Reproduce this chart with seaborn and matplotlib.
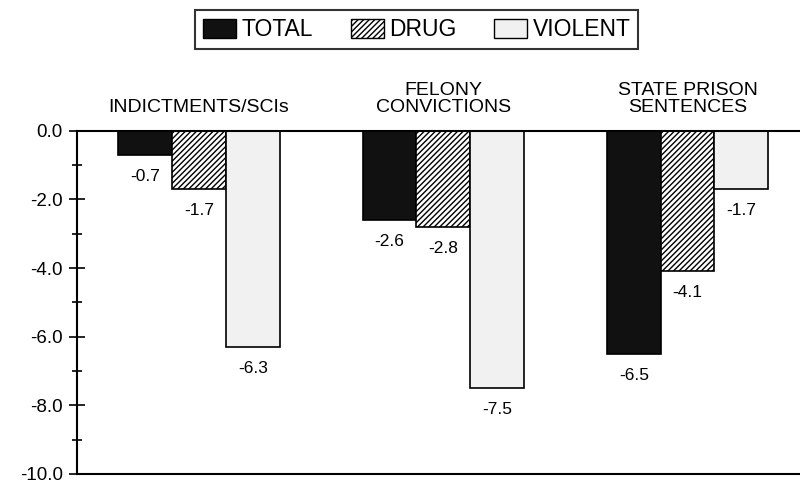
import numpy as np
import pandas as pd
import seaborn as sns
import matplotlib.pyplot as plt
from matplotlib.patches import Patch
from matplotlib.ticker import MultipleLocator

groups = ['INDICTMENTS/SCIs', 'FELONY\nCONVICTIONS', 'STATE PRISON\nSENTENCES']
series = ['TOTAL', 'DRUG', 'VIOLENT']
total = [-0.7, -2.6, -6.5]
drug = [-1.7, -2.8, -4.1]
violent = [-6.3, -7.5, -1.7]

df = pd.DataFrame({
    'group': groups * 3,
    'series': [s for s in series for _ in groups],
    'value': total + drug + violent,
})

sns.set_theme(style="white")
plt.rcParams['font.family'] = ['Liberation Sans', 'DejaVu Sans']
plt.rcParams['text.color'] = 'black'
plt.rcParams['ytick.color'] = 'black'
plt.rcParams['ytick.labelcolor'] = 'black'

faces = {'TOTAL': '#111111', 'DRUG': 'white', 'VIOLENT': '#f1f1f1'}
hatches = {'TOTAL': '', 'DRUG': '//////', 'VIOLENT': ''}

fig = plt.figure(figsize=(8, 4.83), dpi=100)
ax = fig.add_axes([0.096, 0.019, 0.904, 0.71])

sns.barplot(data=df, x='group', y='value', hue='series', order=groups,
            hue_order=series, width=0.66, ax=ax, legend=False,
            palette=faces, edgecolor='black', linewidth=1.2, saturation=1)

for cont, s in zip(ax.containers, series):
    for bar in cont:
        bar.set_facecolor(faces[s])
        bar.set_hatch(hatches[s])
        bar.set_edgecolor('black')
    ax.bar_label(cont, fmt='%.1f', padding=10, fontsize=12.5, color='black')

ax.set_ylim(-10, 0)
ax.set_xlim(-0.5, 2.46)
ax.set_xlabel('')
ax.set_ylabel('')
ax.set_xticks([])
ax.yaxis.set_major_locator(MultipleLocator(2))
ax.yaxis.set_minor_locator(MultipleLocator(1))
ax.yaxis.set_major_formatter(plt.FuncFormatter(lambda v, p: f'{v:.1f}'))
ax.tick_params(axis='y', which='major', direction='inout', length=12, width=1.2,
               labelsize=13.5, left=True, pad=4)
ax.tick_params(axis='y', which='minor', direction='inout', length=7, width=1.2, left=True)
for side in ['left', 'top', 'bottom']:
    ax.spines[side].set_color('black')
    ax.spines[side].set_linewidth(1.5)
ax.spines['right'].set_visible(False)

for i, g in enumerate(groups):
    ax.text(i, 0.42, g, ha='center', va='bottom', fontsize=14, linespacing=1.05,
            transform=ax.transData, clip_on=False)

handles = [Patch(facecolor=faces[s], edgecolor='black', hatch=hatches[s], label=s)
           for s in series]
leg = fig.legend(handles=handles, loc='upper center', bbox_to_anchor=(0.521, 0.979),
                 ncol=3, frameon=True, fontsize=16.5, handlelength=1.45, handleheight=0.9,
                 columnspacing=1.65, handletextpad=0.22, borderpad=0.35,
                 borderaxespad=0, fancybox=False)
leg.get_frame().set_edgecolor('black')
leg.get_frame().set_linewidth(1.5)

fig.savefig('out.png', dpi=100)
